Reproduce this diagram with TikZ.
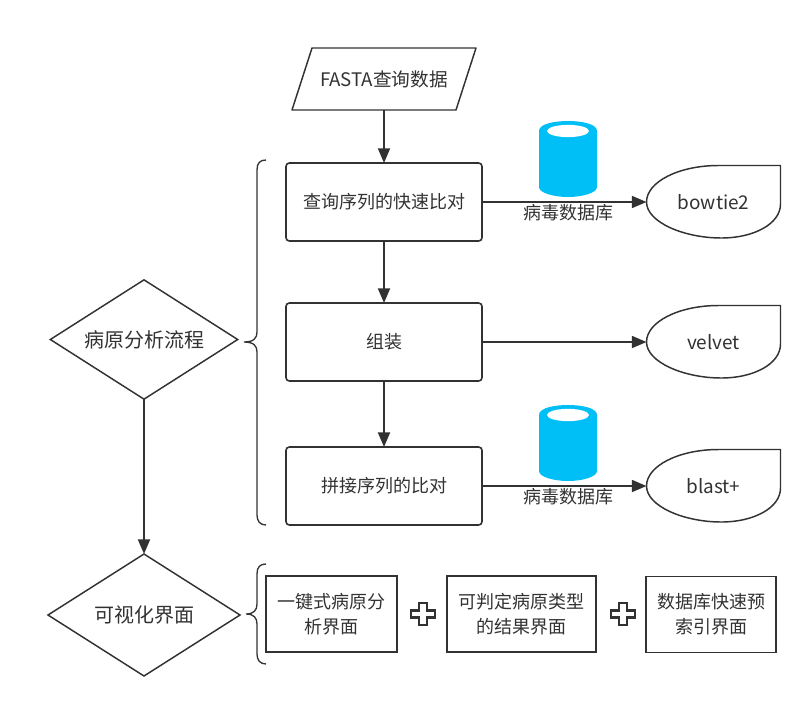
\documentclass[tikz,border=0pt]{standalone}
\usepackage{fontspec}
\setmainfont{Noto Sans CJK SC}
\usetikzlibrary{shapes.geometric,arrows.meta}
\definecolor{ink}{HTML}{323232}
\definecolor{cyl}{HTML}{00BEF6}
\tikzset{
  x=0.75pt,y=-0.75pt,
  every node/.style={font=\fontsize{13.5}{19}\selectfont,text=ink,align=center,inner sep=0pt,outer sep=0pt},
  flow/.style={draw=ink,line width=1.2pt,rectangle,rounded corners=2.5pt,minimum width=147pt,minimum height=58.5pt},
  plainbox/.style={draw=ink,line width=1.4pt,rectangle,minimum height=57pt},
  decision/.style={draw=ink,line width=1.1pt,diamond,aspect=1.6,font=\fontsize{15}{19}\selectfont},
  ghost/.style={rectangle,minimum width=100.5pt,minimum height=55pt,font=\fontsize{14.2}{19}\selectfont},
  link/.style={draw=ink,line width=1.4pt,-{Triangle[length=11pt,width=9pt]}},
  edge line/.style={draw=ink,line width=1.1pt,line join=round},
  brace line/.style={draw=ink,line width=1pt},
  plus line/.style={draw=ink,line width=1.6pt},
}
\newcommand{\docshape}[1]{%
  \begin{scope}[shift={(#1.center)}]
  \draw[edge line] (67,-36.5) -- (5,-36.5)
    .. controls (-35,-36.5) and (-67,-20) .. (-67,0)
    .. controls (-67,20) and (-30,36) .. (8,36)
    .. controls (40,36) and (67,22) .. (67,2) -- cycle;
  \end{scope}}
\newcommand{\cylinderat}[2]{%
  \fill[cyl] (#1-29,#2+10) .. controls (#1-29,#2+3) and (#1-14,#2) .. (#1,#2)
    .. controls (#1+14,#2) and (#1+29,#2+3) .. (#1+29,#2+10)
    -- (#1+29,#2+66) .. controls (#1+29,#2+72) and (#1+14,#2+76) .. (#1,#2+76)
    .. controls (#1-14,#2+76) and (#1-29,#2+72) .. (#1-29,#2+66) -- cycle;
  \fill[white] (#1,#2+10) ellipse [x radius=15.75pt,y radius=4.6pt];}
\newcommand{\plusat}[2]{%
  \draw[plus line] (#1-4,#2-11) -- (#1+4,#2-11) -- (#1+4,#2-3.5) -- (#1+12,#2-3.5) -- (#1+12,#2+3.5)
   -- (#1+4,#2+3.5) -- (#1+4,#2+11) -- (#1-4,#2+11) -- (#1-4,#2+3.5) -- (#1-12,#2+3.5) -- (#1-12,#2-3.5) -- (#1-4,#2-3.5) -- cycle;}
\begin{document}
\begin{tikzpicture}
\useasboundingbox (0,0) rectangle (812,707);
% input
\node[rectangle,minimum width=138pt,minimum height=46.5pt,font=\fontsize{14}{19}\selectfont] (fasta) at (384,79) {FASTA查询数据};
\draw[edge line] ([xshift=15pt]fasta.north west) -- (fasta.north east) -- ([xshift=-15pt]fasta.south east) -- (fasta.south west) -- cycle;
% flow boxes
\node[flow] (align) at (384,202) {查询序列的快速比对};
\node[flow] (asm) at (384,342) {组装};
\node[flow] (blast) at (384,486) {拼接序列的比对};
% decisions
\node[decision,minimum width=140.5pt,minimum height=89.5pt] (path) at (144,339.5) {病原分析流程};
\node[decision,minimum width=144pt,minimum height=91.5pt] (vis) at (144,615) {可视化界面};
% output shapes
\node[ghost] (bowtie) at (713.5,202) {bowtie2};
\node[ghost] (velvet) at (713.5,342) {velvet};
\node[ghost] (blastp) at (713.5,486) {blast+};
\docshape{bowtie}\docshape{velvet}\docshape{blastp}
% databases
\cylinderat{568}{121}
\cylinderat{568}{405}
\node (db1) at (568,213) {病毒数据库};
\node (db2) at (568,497) {病毒数据库};
% connectors
\draw[link] (fasta.south) -- (align.north);
\draw[link] (align.south) -- (asm.north);
\draw[link] (asm.south) -- (blast.north);
\draw[link] (path.south) -- (vis.north);
\draw[link] (align.east) -- (bowtie.west);
\draw[link] (asm.east) -- (velvet.west);
\draw[link] (blast.east) -- (blastp.west);
% braces
\draw[brace line] (266,160) .. controls (260,160) and (257,163) .. (257,170)
  -- (257,332) .. controls (257,338) and (254,342) .. (244,342)
  .. controls (254,342) and (257,346) .. (257,352) -- (257,515)
  .. controls (257,521) and (260,525) .. (266,525);
\draw[brace line] (266,564) .. controls (260,564) and (257,567) .. (257,574)
  -- (257,604) .. controls (257,610) and (254,614) .. (246,614)
  .. controls (254,614) and (257,618) .. (257,624) -- (257,654)
  .. controls (257,660) and (260,664) .. (266,664);
% interface boxes
\node[plainbox,minimum width=98.5pt] (ui1) at (331.5,614) {一键式病原分\\析界面};
\node[plainbox,minimum width=112pt] (ui2) at (521.5,614) {可判定病原类型\\的结果界面};
\node[plainbox,minimum width=97.5pt] (ui3) at (711,614.5) {数据库快速预\\索引界面};
\plusat{423}{614}
\plusat{623}{614}
\end{tikzpicture}
\end{document}
